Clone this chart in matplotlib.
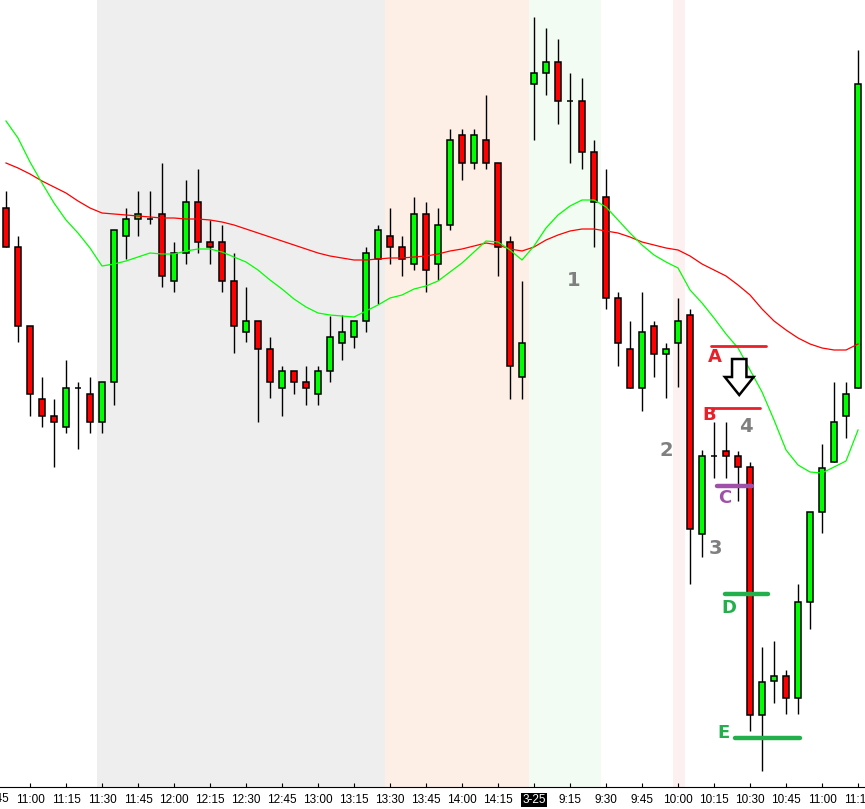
"""Intraday 5-minute candles across two sessions with two moving averages and A-E trade levels."""
import matplotlib
matplotlib.use("Agg")
import matplotlib.pyplot as plt
from matplotlib import font_manager
from matplotlib.patches import Polygon

# ---- data (price scale is arbitrary: the chart has no y axis) ----
opens = [592, 553, 474, 401, 384, 373, 412, 406, 378, 418, 564, 581, 581, 586, 519, 547, 598, 558,
         558, 519, 468, 479, 451, 412, 429, 418, 406, 429, 457, 463, 479, 541, 564, 553, 536, 586,
         536, 575, 665, 637, 660, 637, 558, 423, 716, 727, 738, 699, 699, 648, 603, 502, 451, 412,
         474, 446, 457, 485, 266, 344, 349, 344, 333, 85, 119, 124, 102, 198, 288, 338, 384, 412]
highs = [609, 564, 474, 423, 401, 440, 418, 423, 418, 570, 592, 609, 609, 637, 558, 620, 631, 580,
         575, 547, 513, 479, 463, 434, 429, 434, 434, 484, 485, 479, 553, 575, 592, 564, 603, 598,
         592, 671, 671, 671, 705, 637, 564, 519, 783, 772, 761, 727, 722, 660, 631, 508, 479, 508,
         479, 457, 502, 491, 350, 378, 378, 349, 338, 153, 159, 130, 216, 288, 356, 418, 418, 750]
lows = [553, 458, 384, 373, 333, 367, 351, 367, 367, 395, 541, 564, 576, 513, 508, 536, 547, 536,
        508, 447, 458, 378, 402, 384, 406, 395, 395, 418, 440, 452, 468, 496, 536, 524, 530, 508,
        520, 570, 620, 631, 631, 524, 401, 401, 660, 705, 676, 637, 631, 553, 491, 434, 412, 389,
        423, 402, 413, 216, 243, 322, 322, 299, 69, 29, 97, 86, 86, 171, 267, 338, 362, 412]
closes = [553, 474, 406, 384, 378, 412, 412, 378, 418, 570, 581, 586, 581, 524, 547, 598, 558, 553,
          519, 474, 479, 451, 418, 429, 418, 412, 429, 463, 468, 479, 547, 570, 553, 541, 586, 530,
          575, 660, 637, 665, 637, 553, 434, 457, 727, 738, 699, 699, 648, 598, 502, 457, 412, 468,
          446, 451, 479, 271, 344, 344, 344, 333, 85, 118, 124, 102, 198, 288, 332, 378, 406, 716]
ma_slow = [637, 632, 626, 619, 613, 607, 599, 592, 587, 586, 585, 584, 583, 582, 582, 581, 581, 580,
           578, 575, 571, 567, 563, 559, 555, 551, 547, 544, 542, 540, 540, 541, 542, 542, 543, 544,
           546, 549, 551, 554, 557, 555, 551, 549, 553, 560, 565, 569, 571, 571, 569, 567, 563, 558,
           555, 552, 550, 544, 536, 530, 524, 515, 505, 491, 479, 470, 462, 456, 452, 450, 450, 456]
ma_fast = [679, 662, 638, 617, 597, 580, 567, 552, 534, 536, 539, 543, 547, 546, 546, 549, 551, 551,
           548, 543, 538, 530, 520, 511, 501, 493, 487, 485, 484, 483, 489, 495, 502, 505, 511, 514,
           519, 528, 537, 548, 559, 558, 550, 540, 554, 572, 585, 594, 600, 600, 593, 580, 567, 555,
           545, 538, 532, 510, 497, 482, 466, 452, 430, 408, 380, 350, 335, 328, 327, 333, 339, 370]

tick_bars = list(range(2, 72, 3))
tick_labels = ["11:00", "11:15", "11:30", "11:45", "12:00", "12:15", "12:30", "12:45", "13:00",
               "13:15", "13:30", "13:45", "14:00", "14:15", "3-25", "9:15", "9:30", "9:45",
               "10:00", "10:15", "10:30", "10:45", "11:00", "11:15"]

# session shading (bar-index ranges)
spans = [(7.55, 31.55, "#eeeeee"), (31.55, 43.55, "#fdeee6"), (43.55, 49.55, "#f2fcf2"),
         (55.55, 56.55, "#fdf0f0")]

# trade levels: label, price, bar start, bar end, colour, width
levels = [("A", 454, 58.75, 63.3, "#e8202a", 2.0),
          ("B", 392, 58.8, 62.8, "#e8202a", 2.0),
          ("C", 314, 59.25, 62.2, "#a050a8", 3.2),
          ("D", 206, 59.9, 63.5, "#22b04c", 3.2),
          ("E", 62, 60.75, 66.2, "#22b04c", 3.2)]
level_text = {"A": (59.1, 443), "B": (58.6, 385), "C": (59.9, 302), "D": (60.2, 192), "E": (59.75, 67)}
wave_labels = [("1", 47.3, 520), ("2", 55.0, 350), ("3", 59.15, 252), ("4", 61.65, 373)]
arrow_tip = (61.1, 405)

installed = {f.name for f in font_manager.fontManager.ttflist}
if "Liberation Sans Narrow" in installed:
    tick_font, tick_size = "Liberation Sans Narrow", 9.5
elif "DejaVu Sans Condensed" in installed:
    tick_font, tick_size = "DejaVu Sans Condensed", 8.5
else:
    tick_font, tick_size = "Liberation Sans", 8.5

fig = plt.figure(figsize=(8.65, 8.09), dpi=100)
ax = fig.add_axes([0, 22 / 809, 1, 1 - 22 / 809])
ax.set_xlim(-0.5, 71.58)
ax.set_ylim(13, 800)

for x0, x1, c in spans:
    ax.axvspan(x0, x1, color=c, lw=0, zorder=0)

xs = list(range(len(opens)))
ax.vlines(xs, lows, highs, color="black", lw=1.0, zorder=2)
body_col = ["#00ff00" if c > o else "#ff0000" for o, c in zip(opens, closes)]
heights = [c - o for o, c in zip(opens, closes)]
ax.bar(xs, heights, bottom=opens, width=0.55, color=body_col, edgecolor="black", lw=1.1, zorder=3)

ax.plot(xs, ma_slow, color="#ff0000", lw=0.9, zorder=4)
ax.plot(xs, ma_fast, color="#00ff00", lw=0.9, zorder=4)

for name, price, x0, x1, c, w in levels:
    ax.plot([x0, x1], [price, price], color=c, lw=w, solid_capstyle="round", zorder=5)
    tx, ty = level_text[name]
    ax.text(tx, ty, name, color=c, fontsize=13, fontweight="bold", ha="center", va="center", zorder=6)
for txt, tx, ty in wave_labels:
    ax.text(tx, ty, txt, color="#808080", fontsize=14, fontweight="bold", ha="center", va="center", zorder=6)

# hollow down arrow
tx, ty = arrow_tip
hw, sw, hh, tl = 1.2, 0.6, 18, 36
arrow = Polygon([(tx, ty), (tx + hw, ty + hh), (tx + sw, ty + hh), (tx + sw, ty + tl),
                 (tx - sw, ty + tl), (tx - sw, ty + hh), (tx - hw, ty + hh)],
                closed=True, facecolor="white", edgecolor="black", lw=1.8, zorder=6)
ax.add_patch(arrow)

for s in ("left", "right", "top"):
    ax.spines[s].set_visible(False)
ax.spines["bottom"].set_color("black")
ax.set_yticks([])
ax.set_xticks(tick_bars)
ax.set_xticklabels(tick_labels, family=tick_font, fontsize=tick_size)
ax.tick_params(axis="x", direction="in", length=3, pad=5, color="black")
for lab in ax.get_xticklabels():
    if lab.get_text() == "3-25":
        lab.set_color("white")
        lab.set_bbox(dict(facecolor="black", edgecolor="none", pad=1.0))
# partial label cut off at the left edge
ax.text(-1, -0.007, "10:45", transform=ax.get_xaxis_transform(), ha="center", va="top",
        family=tick_font, fontsize=tick_size, clip_on=False)

fig.savefig("out.png", dpi=100)
